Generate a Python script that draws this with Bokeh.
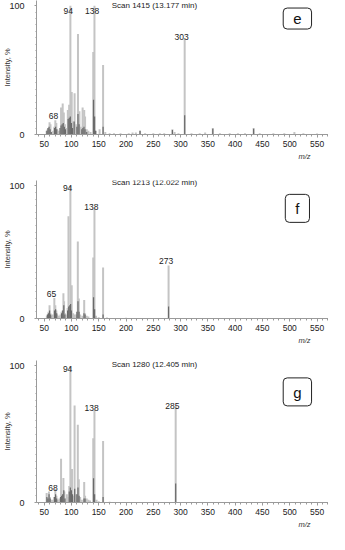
from bokeh.plotting import figure
from bokeh.models import Range1d, FixedTicker, SingleIntervalTicker, Label, ColumnDataSource, Title
from bokeh.layouts import column
from bokeh.embed import file_html
from bokeh.resources import INLINE
from bokeh.core.properties import value

# ---------------- Panel e ----------------
e_title = "Scan 1415 (13.177 min)"
e_tag = "e"
e_light_mz = [54.6, 56.5, 58.8, 59.9, 61.6, 64, 66.5, 68.7, 70.5, 72.3, 74, 77, 81, 84, 86, 88, 90,
              93.4, 95.8, 98.1, 100.5, 103, 105.8, 108, 112, 114.6, 117, 120.5, 123.4, 125, 128, 131,
              135, 140, 142.2, 145, 151.6, 158, 162, 170, 178, 190, 205, 212, 218, 225.7, 235, 250,
              262, 270, 285, 289, 296, 307.5, 320, 335, 345, 359, 372, 390, 405, 418, 433.8, 445,
              470, 490, 508.5, 525, 550]
e_light_int = [3, 4, 5, 9.6, 8, 2, 3, 6, 11, 9, 4, 3, 21, 24, 17, 8, 5,
               19, 23, 100, 33, 10, 32, 8, 78, 18, 6, 21, 19, 14, 4, 3,
               2, 64, 100, 3, 4, 54, 2, 1, 1, 1, 1, 1.5, 1.5, 3, 1, 1,
               1, 1, 4, 2, 1, 74.5, 1, 1, 1.5, 5, 1, 1, 1, 1, 5, 1,
               1, 1, 2, 1, 0.8]
e_dark_mz = [55, 57, 59, 61, 63, 69, 71, 73, 79, 81, 83, 85, 87, 89, 94, 96, 98, 100, 102, 105,
             110, 112, 114, 119, 121, 123, 125, 128, 140.5, 142.5, 144, 158, 225.7, 285, 307.5,
             359, 433.8]
e_dark_int = [3, 5, 6, 4, 2, 5, 6, 4, 5, 7, 8, 9, 6, 4, 12, 13, 14, 9, 5, 10,
              6, 16, 8, 4, 5, 6, 4, 2, 27, 14, 3, 6, 3, 3.5, 15,
              4.5, 4.5]
e_lab_text = ["94", "138", "303", "68"]
e_lab_mz = [94, 138, 302, 67]
e_lab_int = [96, 96, 76, 14]

# ---------------- Panel f ----------------
f_title = "Scan 1213 (12.022 min)"
f_tag = "f"
f_light_mz = [55, 56.8, 58, 59.9, 61.5, 64, 66, 68.7, 70.5, 72.3, 74, 77, 80, 82, 84, 85.3, 86.5,
              88, 91, 93, 94.6, 96.5, 98.1, 100.5, 103, 106, 109, 111.7, 113.5, 116, 120, 123.4,
              125, 128, 131, 140, 142.2, 145, 150, 158, 165, 200, 278]
f_light_int = [2, 3, 5, 10, 4, 2, 3, 15.5, 10, 6, 3, 2, 3, 5, 6, 19, 13,
               4, 3, 8, 77, 10, 100, 25, 4, 3, 3, 58, 15, 3, 2, 14,
               4, 2, 1.5, 46, 83, 2, 1, 38.5, 0.8, 0.5, 40]
f_dark_mz = [56, 58, 60, 62, 69, 71, 73, 82, 84, 86, 88, 93, 95, 97, 98.5, 100, 110, 112, 114,
             123, 125, 140.5, 142.5, 158, 278]
f_dark_int = [3, 4, 6, 3, 6, 7, 4, 4, 6, 10, 3, 6, 9, 10, 11, 6, 5, 13, 5,
              4, 3, 16, 7, 3, 9]
f_lab_text = ["94", "138", "273", "65"]
f_lab_mz = [93, 136.5, 273.5, 63.5]
f_lab_int = [98, 84, 43, 18.3]

# ---------------- Panel g ----------------
g_title = "Scan 1280 (12.405 min)"
g_tag = "g"
g_light_mz = [54.6, 56.5, 58.8, 60.5, 63, 66, 68.5, 70.5, 72.5, 75, 78, 81, 83, 85.3, 87, 89,
              91.6, 94, 96, 98.1, 101, 103, 105.8, 108, 111.7, 113.5, 116, 119, 123.4, 125, 128,
              131, 134, 140, 142.2, 146, 150, 158, 170, 291]
g_light_int = [7, 3, 8, 4, 2, 2, 4, 10, 5, 2, 3, 32, 6, 18, 8, 3,
               6, 4, 12, 100, 24.5, 5, 71, 6, 57, 17, 4, 2, 15, 5, 3,
               2, 1.5, 47, 68, 2, 1, 45, 0.5, 70.5]
g_dark_mz = [55, 57, 59, 61, 69, 71, 73, 80, 82, 84, 86, 88, 96, 98, 100, 102, 106, 110, 112,
             114, 123, 125, 140.5, 142.5, 158, 291]
g_dark_int = [4, 3, 6, 3, 4, 6, 3, 4, 5, 6, 9, 3, 8, 11, 9, 6, 10, 6, 11,
              5, 3, 3, 17.7, 6, 4, 14]
g_lab_text = ["94", "138", "285", "68"]
g_lab_mz = [93, 137, 285, 66.4]
g_lab_int = [98, 69, 71, 10.5]

x_ticks_interval = 50
y_tick_values = [0, 100]
x_axis_title = "m/z"
y_axis_title = "Intensity, %"

FONT = "Liberation Sans"
LIGHT = "#c4c4c4"
DARK = "#6a6a6a"


def make_panel(light_mz, light_int, dark_mz, dark_int, lab_text, lab_mz, lab_int,
               title, tag, height, top, bottom, title_y, tag_y):
    p = figure(width=328, height=height, output_backend="svg", toolbar_location=None,
               x_range=Range1d(36, 571), y_range=Range1d(0, 104),
               min_border_left=0, min_border_right=0, min_border_top=top,
               min_border_bottom=bottom)
    p.outline_line_color = None
    p.grid.visible = False

    src_l = ColumnDataSource(dict(x=light_mz, y=light_int, y0=[0] * len(light_mz)))
    src_d = ColumnDataSource(dict(x=dark_mz, y=dark_int, y0=[0] * len(dark_mz)))
    p.segment(x0="x", y0="y0", x1="x", y1="y", source=src_l, line_color=LIGHT, line_width=2)
    p.segment(x0="x", y0="y0", x1="x", y1="y", source=src_d, line_color=DARK, line_width=1.2)

    src_t = ColumnDataSource(dict(x=lab_mz, y=lab_int, t=lab_text))
    p.text(x="x", y="y", text="t", source=src_t, text_align="center", text_baseline="middle",
           text_font=value(FONT), text_font_size="8.5px", text_color="#222222")

    p.add_layout(Label(x=252, y=title_y, text=title, text_align="center", text_baseline="middle",
                       text_font=FONT, text_font_size="8px", text_color="#222222"))
    p.add_layout(Label(x=514, y=tag_y, text=tag, text_align="center", text_baseline="middle",
                       text_font=FONT, text_font_size="15px", text_color="#111111",
                       border_line_color="#222222", border_line_width=1,
                       background_fill_color="white", border_radius=4,
                       padding=dict(left=10, right=10, top=6, bottom=5)))

    # y axis
    ya = p.yaxis[0]
    ya.ticker = FixedTicker(ticks=y_tick_values, minor_ticks=list(range(0, 105, 5)))
    ya.axis_label = y_axis_title
    ya.axis_label_text_font = FONT
    ya.axis_label_text_font_style = "normal"
    ya.axis_label_text_font_size = "7.5px"
    ya.axis_label_text_color = "#333333"
    ya.axis_label_standoff = -6
    ya.major_label_text_font = FONT
    ya.major_label_text_font_size = "9px"
    ya.major_label_text_color = "#222222"
    ya.major_label_standoff = 10
    ya.axis_line_color = "#9a9a9a"
    ya.major_tick_line_color = "#9a9a9a"
    ya.minor_tick_line_color = "#9a9a9a"
    ya.major_tick_out = 2
    ya.major_tick_in = 0
    ya.minor_tick_out = 1
    ya.minor_tick_in = 0

    # x axis
    xa = p.xaxis[0]
    xa.ticker = SingleIntervalTicker(interval=x_ticks_interval, num_minor_ticks=5)
    xa.major_label_text_font = FONT
    xa.major_label_text_font_size = "8.5px"
    xa.major_label_text_color = "#222222"
    xa.major_label_standoff = 3
    xa.axis_line_color = "#9a9a9a"
    xa.major_tick_line_color = "#9a9a9a"
    xa.minor_tick_line_color = "#9a9a9a"
    xa.major_tick_out = 3
    xa.major_tick_in = 0
    xa.minor_tick_out = 2
    xa.minor_tick_in = 0

    # x-axis title, right aligned below the axis
    p.add_layout(Title(text=x_axis_title, align="right", offset=18, standoff=0,
                       text_font=FONT, text_font_style="italic", text_font_size="7.5px",
                       text_color="#333333"), "below")
    return p


pe = make_panel(e_light_mz, e_light_int, e_dark_mz, e_dark_int, e_lab_text, e_lab_mz, e_lab_int,
                e_title, e_tag, 174, 0, 40, 100, 90)
pf = make_panel(f_light_mz, f_light_int, f_dark_mz, f_dark_int, f_lab_text, f_lab_mz, f_lab_int,
                f_title, f_tag, 176, 6, 32, 102.5, 83)
pg = make_panel(g_light_mz, g_light_int, g_dark_mz, g_dark_int, g_lab_text, g_lab_mz, g_lab_int,
                g_title, g_tag, 184, 10, 32, 101, 81)

layout = column(pe, pf, pg, spacing=0)
open("out.html", "w").write(file_html(layout, INLINE))
